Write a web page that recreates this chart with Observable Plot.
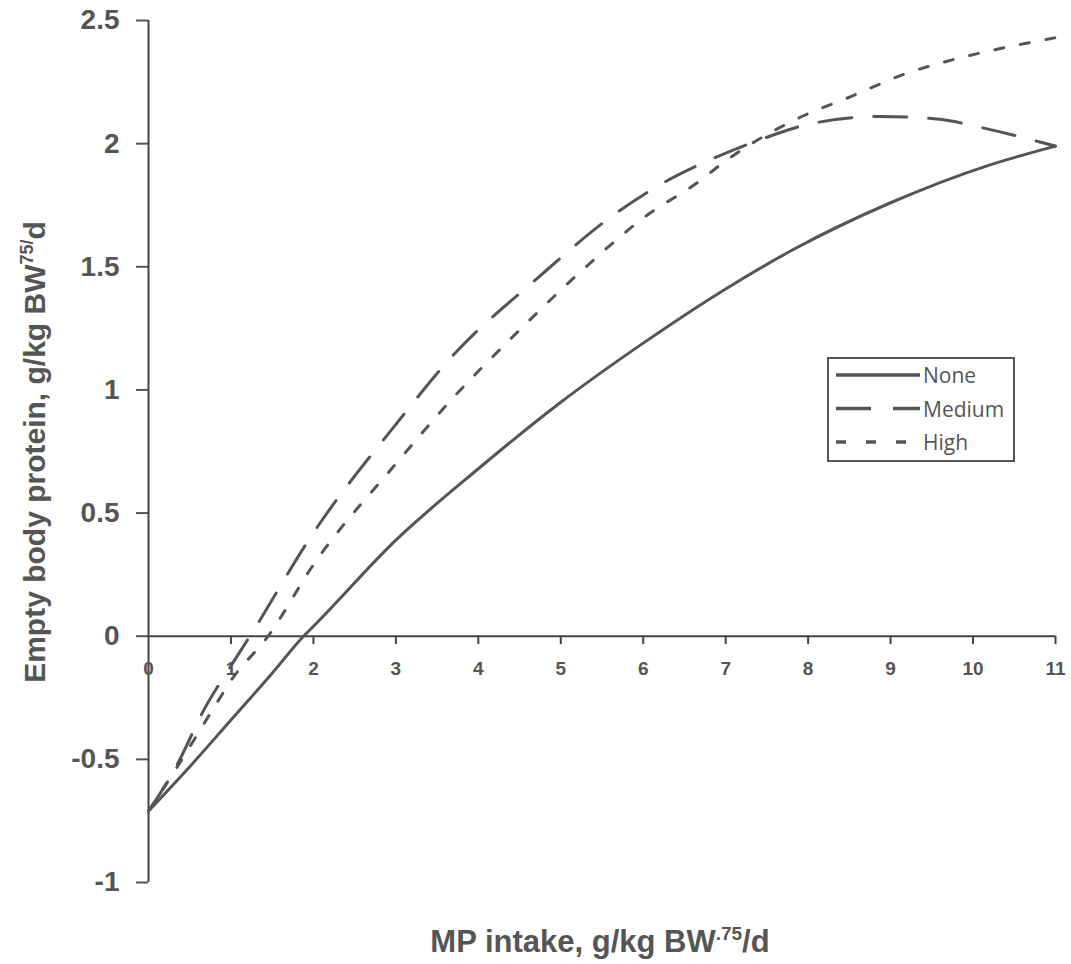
<!DOCTYPE html>
<html>
<head>
<meta charset="utf-8">
<script src="https://cdn.jsdelivr.net/npm/d3@7"></script>
<script src="https://cdn.jsdelivr.net/npm/@observablehq/plot@0.6"></script>
<style>
  html, body { margin: 0; padding: 0; background: #fff; }
  #wrap { position: relative; width: 1071px; height: 964px; }
  #legend { position: absolute; left: 827px; top: 357px; width: 184px; height: 101px;
            border: 2px solid #555; background: #fff; box-sizing: content-box; }
</style>
</head>
<body>
<div id="wrap"></div>
<script>
// ---- data ----
const seriesNames = ["None", "Medium", "High"];
const xTicks = [0, 1, 2, 3, 4, 5, 6, 7, 8, 9, 10, 11];
const yTicks = [-1, -0.5, 0, 0.5, 1, 1.5, 2, 2.5];

const noneX = [0, 0.5, 1, 1.5, 1.88, 2, 3, 4, 5, 6, 7, 7.82, 9, 10.17, 11];
const noneY = [-0.71, -0.53, -0.34, -0.15, 0, 0.04, 0.39, 0.68, 0.95, 1.19, 1.41, 1.57, 1.76, 1.91, 1.99];

const mediumX = [0, 0.35, 0.67, 1, 1.23, 2, 3, 3.72, 4.67, 5.68, 6.24, 6.85, 7.45, 8.02, 8.87, 9.56, 10.17, 11];
const mediumY = [-0.71, -0.52, -0.30, -0.12, 0, 0.42, 0.86, 1.15, 1.44, 1.72, 1.84, 1.94, 2.02, 2.08, 2.11, 2.10, 2.06, 1.99];

const highX = [0, 0.35, 0.83, 1, 1.45, 2, 3, 3.7, 4.43, 5.24, 6.05, 6.65, 7.0, 7.86, 8.51, 9.15, 9.86, 10.53, 11];
const highY = [-0.71, -0.53, -0.27, -0.18, 0, 0.29, 0.70, 0.97, 1.22, 1.48, 1.71, 1.84, 1.93, 2.10, 2.19, 2.28, 2.35, 2.40, 2.43];

const dashes = ["none", "33,22", "9,17"];
const ink = "#555";

const toRows = (xs, ys, name) => xs.map((x, i) => ({x, y: ys[i], series: name}));
const rows = [
  toRows(noneX, noneY, seriesNames[0]),
  toRows(mediumX, mediumY, seriesNames[1]),
  toRows(highX, highY, seriesNames[2])
];

const chart = Plot.plot({
  width: 1071,
  height: 964,
  marginLeft: 148,
  marginRight: 16,
  marginTop: 20,
  marginBottom: 82,
  style: {fontFamily: "'Liberation Sans', Arial, sans-serif", background: "#fff", color: ink},
  x: {domain: [0, 11]},
  y: {domain: [-1, 2.5]},
  marks: [
    Plot.axisY(yTicks, {
      tickSize: 12, tickPadding: 17, fontSize: 28, fontWeight: "bold",
      tickFormat: d => String(d), label: null, strokeWidth: 2
    }),
    Plot.axisX([], {label: null}),
    Plot.ruleX([0], {y1: -1, y2: 2.5, stroke: "#444", strokeWidth: 2}),
    Plot.ruleY([0], {x1: 0, x2: 11, stroke: "#444", strokeWidth: 2}),
    Plot.ruleX(xTicks.filter(d => d > 0), {x: d => d, y1: 0, y2: -0.034, stroke: "#444", strokeWidth: 2}),
    Plot.text(xTicks, {x: d => d, y: 0, dy: 33, text: d => String(d), fontSize: 19, fontWeight: "bold", fill: ink}),
    ...rows.map((r, i) => Plot.line(r, {
      x: "x", y: "y", stroke: ink, strokeWidth: 3, curve: "monotone-x",
      strokeDasharray: dashes[i] === "none" ? null : dashes[i]
    }))
  ]
});

document.getElementById("wrap").appendChild(chart);

// axis titles with superscripts
const svg = d3.select(chart);
const yt = svg.append("text")
  .attr("transform", "translate(45,452) rotate(-90)")
  .attr("text-anchor", "middle")
  .attr("font-size", 30).attr("font-weight", "bold").attr("fill", ink)
  .attr("font-family", "'Liberation Sans', Arial, sans-serif");
yt.append("tspan").text("Empty body protein, g/kg BW");
yt.append("tspan").attr("font-size", 18).attr("dy", -12).text("75/");
yt.append("tspan").attr("dy", 12).text("d");

const xt = svg.append("text")
  .attr("x", 600).attr("y", 952)
  .attr("text-anchor", "middle")
  .attr("font-size", 31).attr("font-weight", "bold").attr("fill", ink)
  .attr("font-family", "'Liberation Sans', Arial, sans-serif");
xt.append("tspan").text("MP intake, g/kg BW");
xt.append("tspan").attr("font-size", 19).attr("dy", -12).text(".75");
xt.append("tspan").attr("dy", 12).text("/d");

// legend (inside plot area, as in the reference)
const leg = d3.select("#wrap").append("div").attr("id", "legend");
const ls = leg.append("svg").attr("width", 184).attr("height", 101);
seriesNames.forEach((name, i) => {
  const yy = 16 + i * 33.5;
  ls.append("line").attr("x1", 7).attr("x2", 91).attr("y1", yy).attr("y2", yy)
    .attr("stroke", ink).attr("stroke-width", 3.5)
    .attr("stroke-dasharray", i === 0 ? null : (i === 1 ? "35,22" : "10,20"));
  ls.append("text").attr("x", 94).attr("y", yy + 8).text(name)
    .attr("font-family", "'Open Sans', sans-serif").attr("font-size", 21).attr("fill", ink);
});
</script>
</body>
</html>
